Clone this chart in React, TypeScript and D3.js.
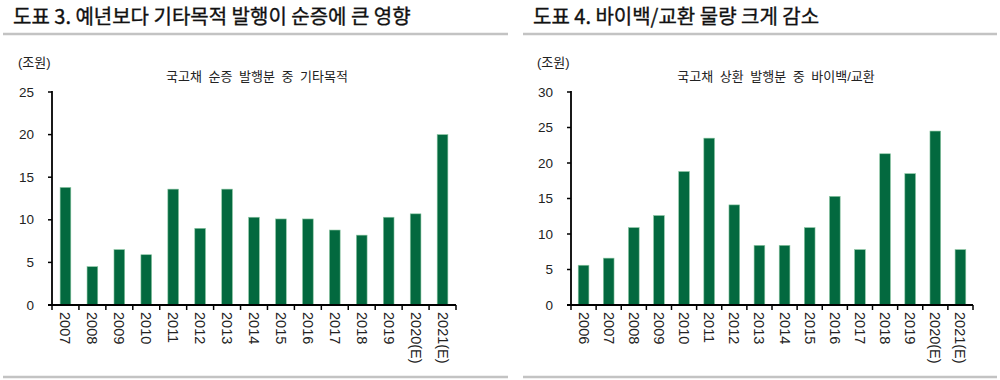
import React from "react";
import * as d3 from "d3";

const leftTitle = "도표 3. 예년보다 기타목적 발행이 순증에 큰 영향";
const leftSubtitle = "국고채 순증 발행분 중 기타목적";
const leftCategories = ["2007", "2008", "2009", "2010", "2011", "2012", "2013", "2014", "2015", "2016", "2017", "2018", "2019", "2020(E)", "2021(E)"];
const leftValues = [13.8, 4.5, 6.5, 5.9, 13.6, 9.0, 13.6, 10.3, 10.1, 10.1, 8.8, 8.2, 10.3, 10.7, 20.0];
const leftTicks = [0, 5, 10, 15, 20, 25];

const rightTitle = "도표 4. 바이백/교환 물량 크게 감소";
const rightSubtitle = "국고채 상환 발행분 중 바이백/교환";
const rightCategories = ["2006", "2007", "2008", "2009", "2010", "2011", "2012", "2013", "2014", "2015", "2016", "2017", "2018", "2019", "2020(E)", "2021(E)"];
const rightValues = [5.6, 6.6, 10.9, 12.6, 18.8, 23.5, 14.1, 8.4, 8.4, 10.9, 15.3, 7.8, 21.3, 18.5, 24.5, 7.8];
const rightTicks = [0, 5, 10, 15, 20, 25, 30];

const unitLabel = "(조원)";

const FONT = "'Liberation Sans', Arial, 'Noto Sans CJK KR', sans-serif";
const KFONT = "'Noto Sans CJK KR', 'Liberation Sans', sans-serif";
const BAR = "#03693F";

type PanelProps = {
  x0: number;
  x1: number;
  axisX: number;
  axisEnd: number;
  title: string;
  subtitle: string;
  subCenter: number;
  categories: string[];
  values: number[];
  ticks: number[];
};

function Panel(p: PanelProps) {
  const top = 92;
  const bottom = 305;
  const y = d3.scaleLinear().domain([0, d3.max(p.ticks) as number]).range([bottom, top]);
  const x = d3.scaleBand<string>().domain(p.categories).range([p.axisX, p.axisEnd]).paddingInner(0).paddingOuter(0);
  const bw = x.bandwidth();
  const barW = 10.7;
  const bounds = [...p.categories.map((c) => x(c) as number), p.axisEnd];
  return (
    <g>
      <text x={p.x0 + 10} y={24} fontFamily={KFONT} fontSize={20} fontWeight={400} fill="#111" stroke="#111" strokeWidth={0.35}>{p.title}</text>
      <line x1={p.x0} x2={p.x1} y1={34} y2={34} stroke="#c3c3c3" strokeWidth={2.5} />
      <line x1={p.x0} x2={p.x1} y1={377} y2={377} stroke="#c3c3c3" strokeWidth={2.5} />
      <text x={p.axisX - 34} y={67} fontFamily={FONT} fontSize={13} fill="#222">{unitLabel}</text>
      <text x={p.subCenter} y={81} textAnchor="middle" fontFamily={FONT} fontSize={13} wordSpacing={3} fill="#222">{p.subtitle}</text>
      {p.categories.map((c, i) => {
        const cx = (x(c) as number) + bw / 2;
        return (
          <rect key={c} x={cx - barW / 2} y={y(p.values[i])} width={barW} height={bottom - y(p.values[i])} fill={BAR} stroke="#8cc7a3" strokeWidth={0.6} />
        );
      })}
      {p.ticks.map((t) => (
        <g key={t}>
          <line x1={p.axisX - 4} x2={p.axisX} y1={y(t)} y2={y(t)} stroke="#000" strokeWidth={1.5} />
          <text x={p.axisX - 18} y={y(t) + 4.5} textAnchor="end" fontFamily={FONT} fontSize={13.5} fill="#222">{t}</text>
        </g>
      ))}
      <line x1={p.axisX} x2={p.axisX} y1={top - 1} y2={bottom} stroke="#000" strokeWidth={1.8} />
      <line x1={p.axisX - 4} x2={p.axisEnd} y1={bottom} y2={bottom} stroke="#000" strokeWidth={1.8} />
      {bounds.map((b, i) => (
        <line key={i} x1={b} x2={b} y1={bottom} y2={bottom + 5} stroke="#000" strokeWidth={1.5} />
      ))}
      {p.categories.map((c) => {
        const cx = (x(c) as number) + bw / 2;
        return (
          <text key={c} transform={`translate(${cx - 5},${bottom + 7}) rotate(90)`} fontFamily={FONT} fontSize={14.5} fill="#222">{c}</text>
        );
      })}
    </g>
  );
}

export default function App() {
  return (
    <svg width={1000} height={380} style={{ position: "absolute", left: 0, top: 0, background: "#fff" }}>
      <rect width={1000} height={380} fill="#fff" />
      <Panel x0={3} x1={508} axisX={52} axisEnd={456} title={leftTitle} subtitle={leftSubtitle} subCenter={257} categories={leftCategories} values={leftValues} ticks={leftTicks} />
      <Panel x0={523} x1={997} axisX={571} axisEnd={973} title={rightTitle} subtitle={rightSubtitle} subCenter={776} categories={rightCategories} values={rightValues} ticks={rightTicks} />
    </svg>
  );
}
